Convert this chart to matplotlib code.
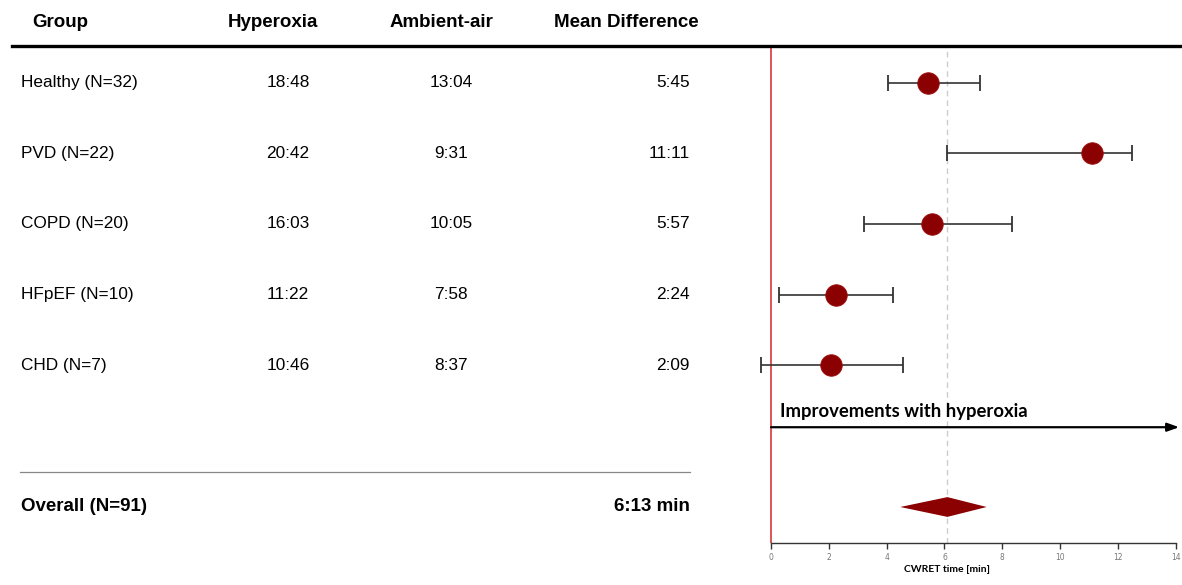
import matplotlib
matplotlib.use("Agg")
import matplotlib.pyplot as plt
from matplotlib.lines import Line2D
from matplotlib.transforms import blended_transform_factory

# Table data
groups = ["Healthy (N=32)", "PVD (N=22)", "COPD (N=20)", "HFpEF (N=10)", "CHD (N=7)"]
hyperoxia = ["18:48", "20:42", "16:03", "11:22", "10:46"]
ambient = ["13:04", "9:31", "10:05", "7:58", "8:37"]
mean_diff_text = ["5:45", "11:11", "5:57", "2:24", "2:09"]
headers = ["Group", "Hyperoxia", "Ambient-air", "Mean Difference"]
overall_label = "Overall (N=91)"
overall_text = "6:13 min"

# Forest plot values (minutes)
diff_mean = [5.43, 11.10, 5.56, 2.24, 2.08]
ci_low = [4.04, 6.10, 3.21, 0.29, -0.36]
ci_high = [7.23, 12.49, 8.34, 4.21, 4.56]
overall_mean = 6.10
overall_low = 4.47
overall_high = 7.46
xticks = [0, 2, 4, 6, 8, 10, 12, 14]

table_font = "Liberation Sans"
calibri_like = "Lato"
dark_red = "#8b0000"

W, H = 1182, 585
fig = plt.figure(figsize=(W / 100, H / 100), dpi=100)

# forest axes: rows at y = 0..4, arrow ~4.88, overall at 6.01
ax = fig.add_axes([753.7 / W, 42 / H, (1181.5 - 753.7) / W, 497 / H])
ax.set_xlim(-0.6, 14.2)
ax.set_ylim(6.52, -0.52)

rows = list(range(len(groups)))
overall_y = 6.01
arrow_y = 4.88
sep_y = 5.52
header_y = -0.85

# reference lines
ax.axvline(0, color="#dd5555", lw=1.4, zorder=1)
ax.axvline(overall_mean, color="#cccccc", lw=1.0, ls=(0, (4, 3)), zorder=0)

# CIs and points
for y, m, lo, hi in zip(rows, diff_mean, ci_low, ci_high):
    ax.errorbar(m, y, xerr=[[m - lo], [hi - m]], fmt="none", ecolor="#333333",
                elinewidth=1.2, capsize=6, capthick=1.3, zorder=2)
ax.plot(diff_mean, rows, "o", color=dark_red, markersize=15.5,
        markeredgecolor="#a01010", markeredgewidth=0.6, zorder=3)

# overall diamond
half_h = 0.14
ax.fill([overall_low, overall_mean, overall_high, overall_mean],
        [overall_y, overall_y - half_h, overall_y, overall_y + half_h],
        color=dark_red, lw=0, zorder=3)

# improvement arrow
ax.annotate("", xy=(14.12, arrow_y), xytext=(0, arrow_y),
            arrowprops=dict(arrowstyle="-|>,head_length=0.7,head_width=0.25",
                            color="black", lw=1.6, shrinkA=0, shrinkB=0),
            annotation_clip=False)
ax.text(0.3, arrow_y - 0.1, "Improvements with hyperoxia", fontsize=13.3,
        fontweight="bold", family=calibri_like, va="bottom", ha="left")

# axis styling
for side in ["left", "top", "right"]:
    ax.spines[side].set_visible(False)
ax.spines["bottom"].set_bounds(0, 14)
ax.spines["bottom"].set_color("#333333")
ax.spines["bottom"].set_linewidth(1.0)
ax.set_yticks([])
ax.set_xticks(xticks)
ax.tick_params(axis="x", length=4, width=1, color="#333333", labelsize=5.5,
               labelcolor="#777777", pad=3)
ax.set_xlabel("CWRET time [min]", fontsize=7.5, fontweight="bold",
              family=calibri_like, labelpad=2)
ax.xaxis.label.set_x((947 - 753.7) / (1181.5 - 753.7))
ax.patch.set_alpha(0)

# table text: x in figure fraction, y in forest data coordinates
tr = blended_transform_factory(fig.transFigure, ax.transData)

col_x = [32 / W, 273 / W, 441 / W, 626 / W]
col_ha = ["left", "center", "center", "center"]
for x, ha, h in zip(col_x, col_ha, headers):
    fig.text(x, header_y, h, transform=tr, ha=ha, va="center", fontsize=13.5,
             fontweight="bold", family=table_font)

for y, g, hy, am, md in zip(rows, groups, hyperoxia, ambient, mean_diff_text):
    fig.text(21 / W, y, g, transform=tr, ha="left", va="center", fontsize=12.4, family=table_font)
    fig.text(288 / W, y, hy, transform=tr, ha="center", va="center", fontsize=12.4, family=table_font)
    fig.text(451 / W, y, am, transform=tr, ha="center", va="center", fontsize=12.4, family=table_font)
    fig.text(690 / W, y, md, transform=tr, ha="right", va="center", fontsize=12.4, family=table_font)

fig.text(21 / W, overall_y, overall_label, transform=tr, ha="left", va="center",
         fontsize=13.5, fontweight="bold", family=table_font)
fig.text(690 / W, overall_y, overall_text, transform=tr, ha="right", va="center",
         fontsize=13.5, fontweight="bold", family=table_font)

# header rule and separator
fig.add_artist(Line2D([12 / W, 1.0], [-0.52, -0.52], transform=tr, color="black", lw=2.4))
fig.add_artist(Line2D([20 / W, 690 / W], [sep_y, sep_y], transform=tr, color="#888888", lw=0.9))

fig.savefig("out.png", dpi=100, facecolor="white")
